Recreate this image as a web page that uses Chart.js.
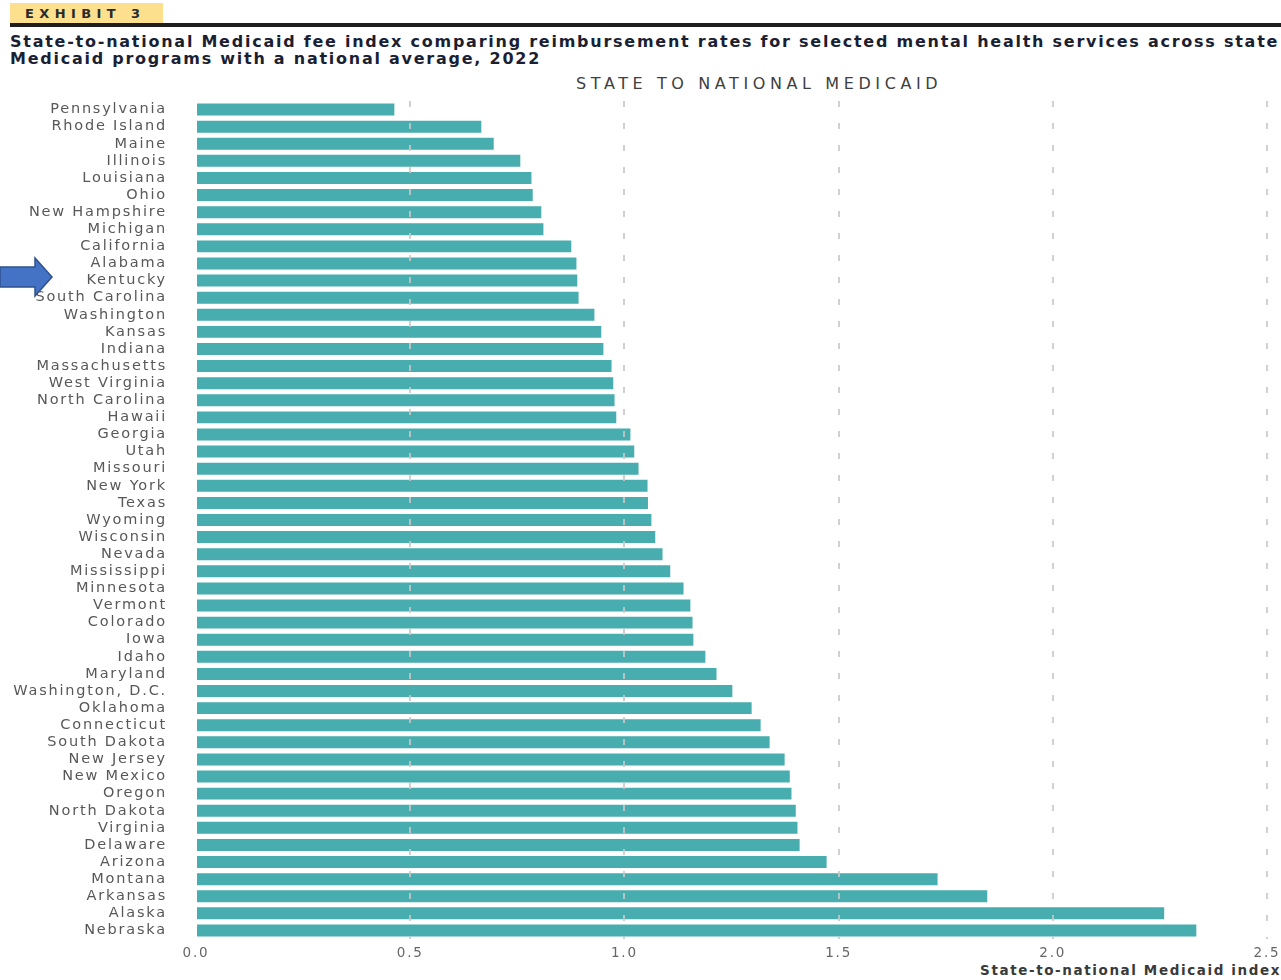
<!DOCTYPE html>
<html>
<head>
<meta charset="utf-8">
<script src="https://cdn.jsdelivr.net/npm/chart.js@4"></script>
<style>
  body { margin: 0; background: #fff; width: 1281px; height: 980px; position: relative; overflow: hidden; font-family: "DejaVu Sans", sans-serif; }
  #exhibit { position: absolute; left: 10px; top: 3px; width: 153px; height: 20px; background: #fce08e; }
  #exhibit span { position: absolute; left: 15px; top: 3px; font: 900 13px "DejaVu Sans"; letter-spacing: 5.4px; color: #2a2a2a; }
  #rule { position: absolute; left: 10px; right: 0; top: 23px; height: 4px; background: #1e1e1e; }
  #title { position: absolute; left: 10px; top: 33px; font: bold 16px/17px "DejaVu Sans"; letter-spacing: 1.75px; color: #1b1f33; white-space: nowrap; }
  #sub { position: absolute; left: 576px; top: 74px; font: 16px "DejaVu Sans"; letter-spacing: 4.6px; color: #404040; white-space: nowrap; }
  #xtitle { position: absolute; right: 0; top: 962px; font: bold 13.5px "DejaVu Sans"; letter-spacing: 1.6px; color: #3a3a3a; white-space: nowrap; }
  #arrow { position: absolute; left: 0; top: 256px; }
  canvas { position: absolute; left: 0; top: 0; }
</style>
</head>
<body>
<div id="exhibit"><span>EXHIBIT 3</span></div>
<div id="rule"></div>
<div id="title">State-to-national Medicaid fee index comparing reimbursement rates for selected mental health services across state<br>Medicaid programs with a national average, 2022</div>
<div id="sub">STATE TO NATIONAL MEDICAID</div>
<div id="xtitle">State-to-national Medicaid index</div>
<svg id="arrow" width="60" height="44">
  <polygon points="0,11 35,11 35,2 52,21 35,40 35,31 0,31" fill="#4472c4" stroke="#2f528f" stroke-width="1.5"/>
</svg>
<canvas id="chart" width="1281" height="980"></canvas>
<script>
// states, top to bottom
const states = [
  "Pennsylvania", "Rhode Island", "Maine", "Illinois", "Louisiana", "Ohio",
  "New Hampshire", "Michigan", "California", "Alabama", "Kentucky", "South Carolina",
  "Washington", "Kansas", "Indiana", "Massachusetts", "West Virginia", "North Carolina",
  "Hawaii", "Georgia", "Utah", "Missouri", "New York", "Texas",
  "Wyoming", "Wisconsin", "Nevada", "Mississippi", "Minnesota", "Vermont",
  "Colorado", "Iowa", "Idaho", "Maryland", "Washington, D.C.", "Oklahoma",
  "Connecticut", "South Dakota", "New Jersey", "New Mexico", "Oregon", "North Dakota",
  "Virginia", "Delaware", "Arizona", "Montana", "Arkansas", "Alaska", "Nebraska"
];
// state-to-national fee index
const feeIndex = [
  0.463, 0.666, 0.695, 0.757, 0.783, 0.786,
  0.806, 0.811, 0.876, 0.888, 0.890, 0.893,
  0.930, 0.946, 0.951, 0.970, 0.974, 0.977,
  0.981, 1.014, 1.023, 1.033, 1.054, 1.055,
  1.063, 1.072, 1.089, 1.107, 1.138, 1.154,
  1.159, 1.161, 1.189, 1.215, 1.252, 1.297,
  1.318, 1.339, 1.374, 1.386, 1.390, 1.400,
  1.404, 1.409, 1.472, 1.731, 1.847, 2.260, 2.335
];
const xTicks = ["0.0", "0.5", "1.0", "1.5", "2.0", "2.5"];

// canvas text is letter spaced like the original
const spacing = {
  id: "spacing",
  beforeUpdate(chart) { chart.ctx.letterSpacing = "1.8px"; },
  beforeDraw(chart) { chart.ctx.letterSpacing = "1.8px"; }
};

new Chart(document.getElementById("chart"), {
  type: "bar",
  plugins: [spacing],
  data: {
    labels: states,
    datasets: [{
      data: feeIndex,
      backgroundColor: "#47adae",
      barPercentage: 0.7,
      categoryPercentage: 1
    }]
  },
  options: {
    indexAxis: "y",
    responsive: false,
    animation: false,
    layout: { padding: { top: 101, right: 14, bottom: 13, left: 0 } },
    plugins: { legend: { display: false }, tooltip: { enabled: false } },
    scales: {
      x: {
        min: 0,
        max: 2.5,
        grid: {
          z: 1,
          lineWidth: 2,
          drawTicks: false,
          color: (c) => c.tick && c.tick.value === 0 ? "rgba(0,0,0,0)" : "rgba(200,200,200,0.85)"
        },
        border: { display: false, dash: [6, 16] },
        ticks: {
          stepSize: 0.5,
          padding: 6,
          color: "#666",
          font: { family: "DejaVu Sans", size: 13.5 },
          callback: (v, i) => xTicks[i]
        },
        afterFit: (s) => { s.height = 28; s.paddingLeft = 0; s.paddingRight = 0; }
      },
      y: {
        border: { display: false },
        grid: { display: false },
        ticks: {
          padding: 21,
          color: "#585858",
          autoSkip: false,
          font: { family: "DejaVu Sans", size: 14.5 }
        },
        afterFit: (s) => { s.width = 196; }
      }
    }
  }
});
</script>
</body>
</html>
